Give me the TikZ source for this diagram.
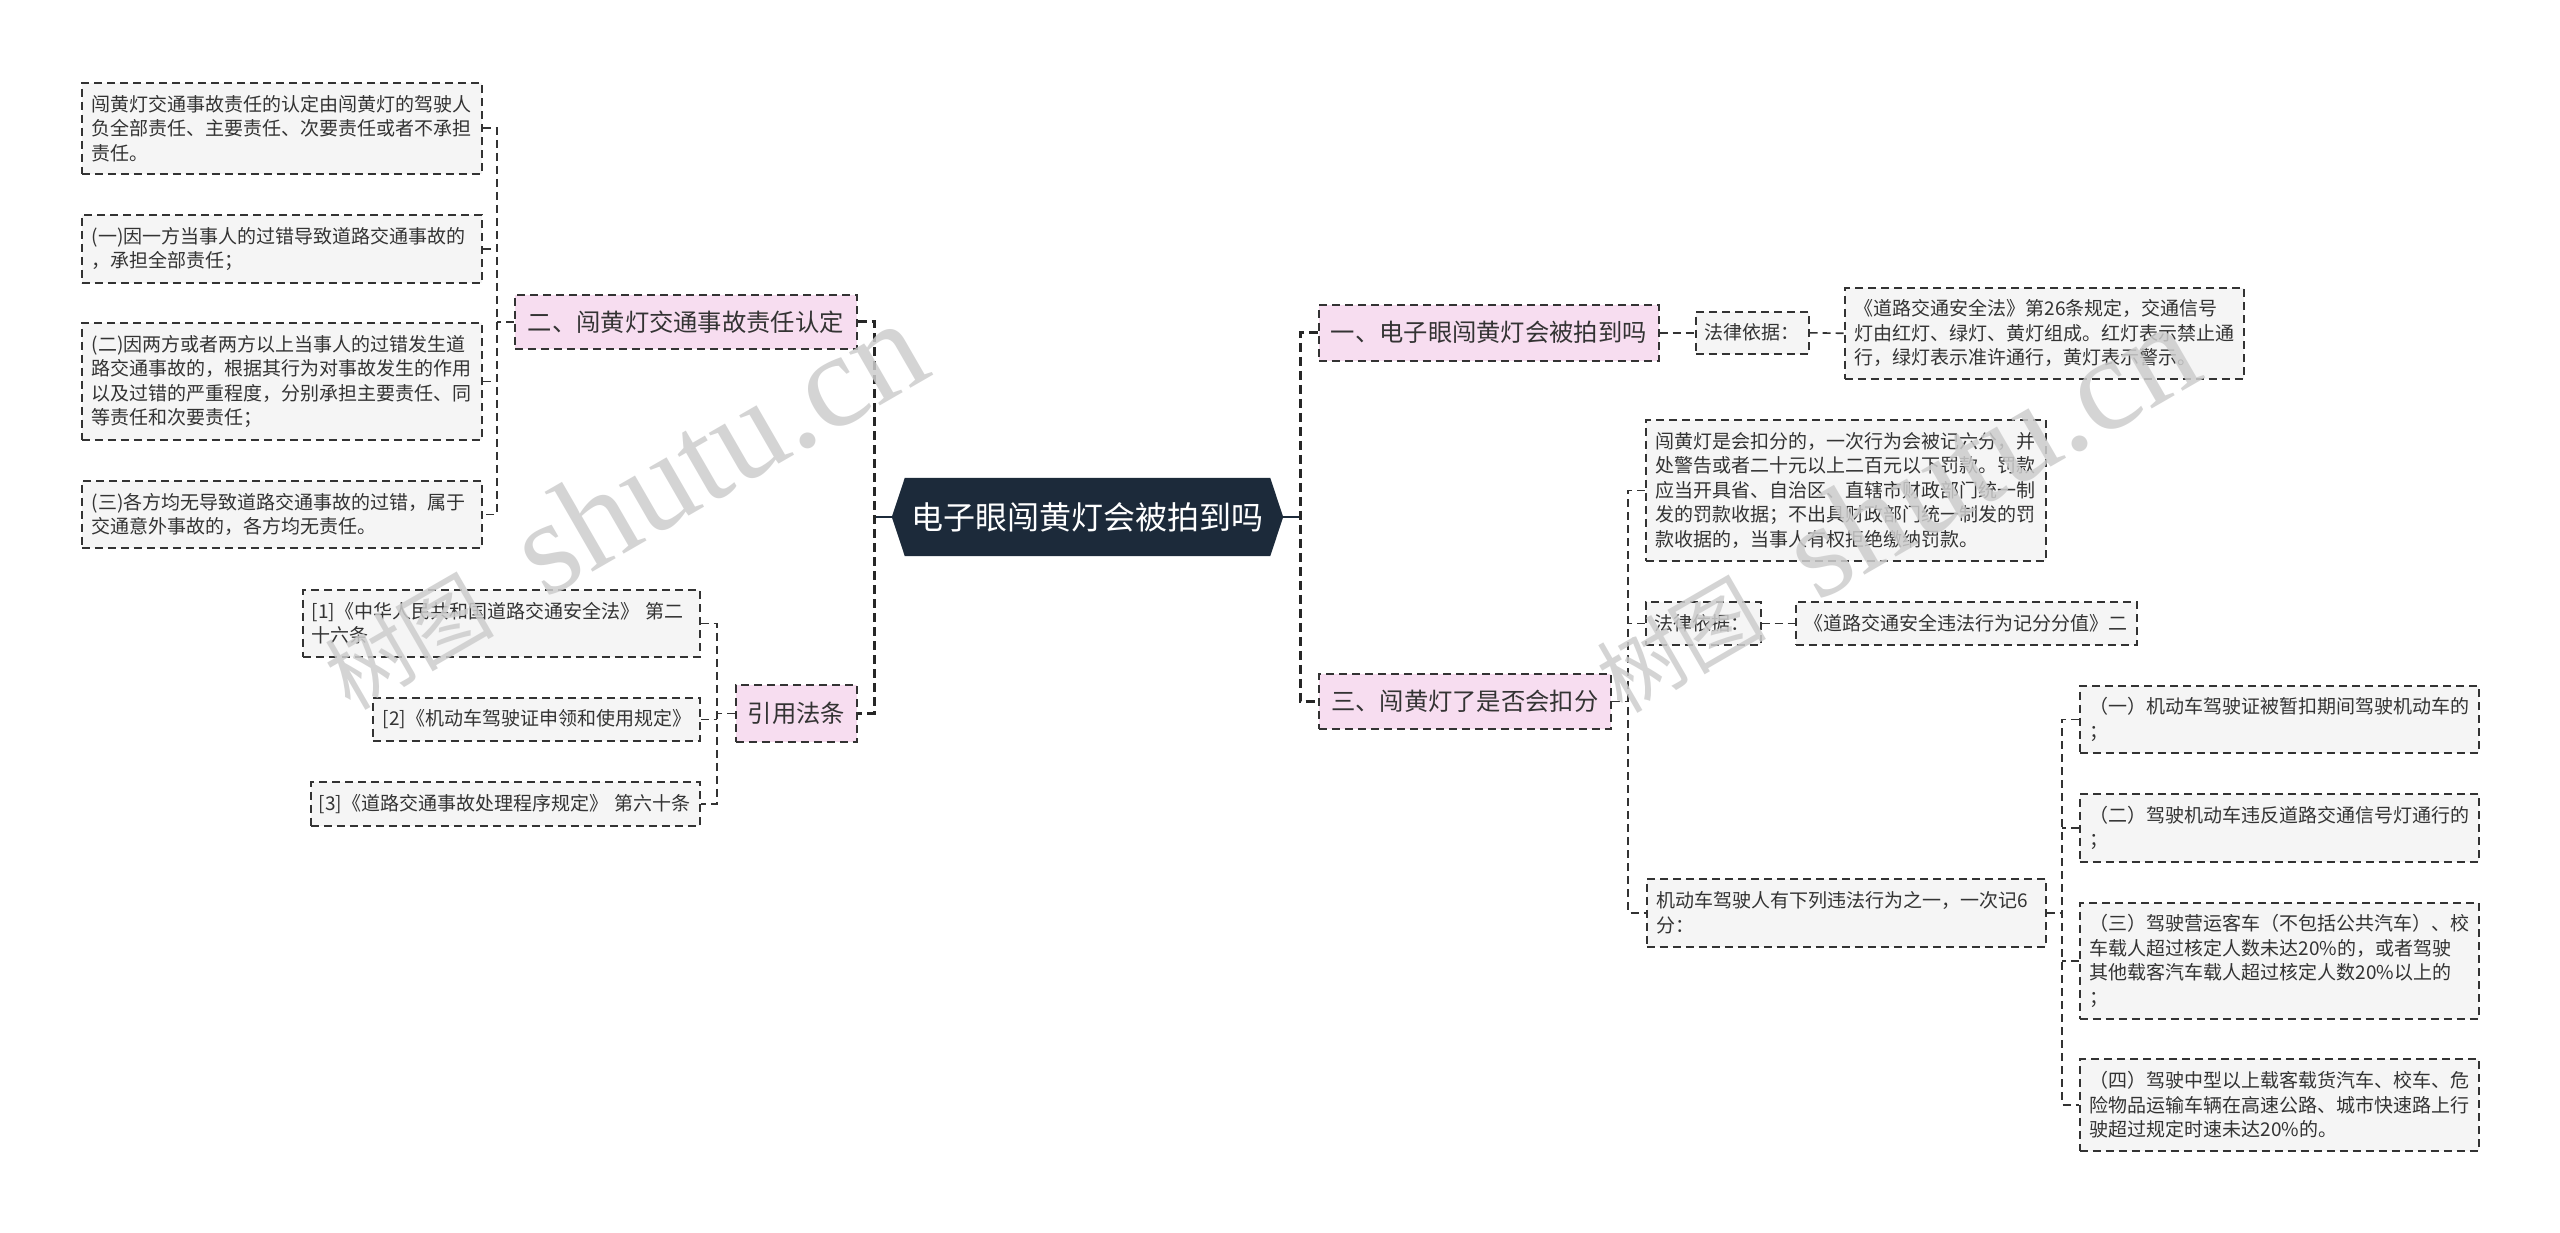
\documentclass[tikz,border=0pt]{standalone}
\usepackage{fontspec}
\newfontfamily\cjk{Noto Sans CJK SC}
\newfontfamily\wmserif{Liberation Serif}
\usetikzlibrary{backgrounds,calc}
\definecolor{linec}{HTML}{333333}
\definecolor{leaffill}{HTML}{F5F5F5}
\definecolor{pinkc}{HTML}{F7DDF0}
\definecolor{rootc}{HTML}{1C2A3A}
\definecolor{textc}{HTML}{333333}
\definecolor{wmc}{HTML}{CDCDCD}
\tikzset{
  leaf/.style={draw=linec, line width=1.6pt, dash pattern=on 8pt off 5pt, fill=leaffill,
    font=\cjk\fontsize{19}{24.5}\selectfont, text=textc, align=left, anchor=north west,
    inner xsep=10pt, inner ysep=0pt},
  topic/.style={draw=linec, line width=1.6pt, dash pattern=on 8pt off 5pt, fill=pinkc,
    font=\cjk\fontsize{24.3}{28}\selectfont, text=textc, inner sep=0pt, anchor=north west},
  rootnode/.style={inner sep=0pt, text=white, font=\cjk\fontsize{32}{36}\selectfont},
  conn/.style={draw=linec, line width=1.6pt, dash pattern=on 8pt off 5pt},
  trunk/.style={draw=black!85, line width=3pt, dash pattern=on 9pt off 5pt},
  rootlink/.style={draw=rootc, line width=2.5pt},
  wm/.style={text=wmc, opacity=0.85, inner sep=0pt, font=\cjk}
}
\begin{document}
\begin{tikzpicture}[x=1pt,y=-1pt]
\useasboundingbox (0,0) rectangle (2560,1233);

% ---------- root ----------
\node[rootnode, minimum width=365pt, minimum height=78pt] (root) at (1087.5,517) {电子眼闯黄灯会被拍到吗};
\coordinate (rootR) at ($(root.east)+(13,0)$);
\coordinate (rootL) at ($(root.west)+(-13,0)$);
\begin{scope}[on background layer]
  \fill[white] (0,0) rectangle (2560,1233);
  \fill[rootc] (root.north west) -- (root.north east) -- (rootR) -- (root.south east)
     -- (root.south west) -- (rootL) -- cycle;
\end{scope}

% ---------- left side ----------
\node[topic, minimum width=342pt, minimum height=54pt] (n2) at (514,294) {二、闯黄灯交通事故责任认定};
\node[leaf, text width=380pt, minimum height=91pt] (A) at (81,82)
  {闯黄灯交通事故责任的认定由闯黄灯的驾驶人\\负全部责任、主要责任、次要责任或者不承担\\责任。};
\node[leaf, text width=380pt, minimum height=68pt] (B) at (81,214)
  {(一)因一方当事人的过错导致道路交通事故的\\，承担全部责任；};
\node[leaf, text width=380pt, minimum height=117pt] (C) at (81,322)
  {(二)因两方或者两方以上当事人的过错发生道\\路交通事故的，根据其行为对事故发生的作用\\以及过错的严重程度，分别承担主要责任、同\\等责任和次要责任；};
\node[leaf, text width=380pt, minimum height=67pt] (D) at (81,480)
  {(三)各方均无导致道路交通事故的过错，属于\\交通意外事故的，各方均无责任。};

\node[topic, minimum width=121pt, minimum height=57pt] (nref) at (735,684) {引用法条};
\node[leaf, inner xsep=9pt, text width=379pt, minimum height=67pt] (R1) at (302,589)
  {[1]《中华人民共和国道路交通安全法》~第二\\十六条};
\node[leaf, text width=307pt, minimum height=43pt] (R2) at (372,697)
  {[2]《机动车驾驶证申领和使用规定》};
\node[leaf, inner xsep=8pt, text width=373pt, minimum height=44pt] (R3) at (310,781)
  {[3]《道路交通事故处理程序规定》~第六十条};

% ---------- right side ----------
\node[topic, minimum width=340pt, minimum height=56pt] (n1) at (1318,304) {一、电子眼闯黄灯会被拍到吗};
\node[leaf, inner xsep=9pt, text width=95pt, minimum height=42pt] (L1) at (1695,311) {法律依据：};
\node[leaf, text width=379pt, minimum height=91pt] (T1) at (1844,287)
  {《道路交通安全法》第26条规定，交通信号\\灯由红灯、绿灯、黄灯组成。红灯表示禁止通\\行，绿灯表示准许通行，黄灯表示警示。};

\node[topic, minimum width=292pt, minimum height=55pt] (n3) at (1318,673) {三、闯黄灯了是否会扣分};
\node[leaf, text width=380pt, minimum height=141pt] (P1) at (1645,419)
  {闯黄灯是会扣分的，一次行为会被记六分，并\\处警告或者二十元以上二百元以下罚款。罚款\\应当开具省、自治区、直辖市财政部门统一制\\发的罚款收据；不出具财政部门统一制发的罚\\款收据的，当事人有权拒绝缴纳罚款。};
\node[leaf, inner xsep=9pt, text width=97pt, minimum height=43pt] (L2) at (1645,601) {法律依据：};
\node[leaf, inner xsep=9pt, text width=323pt, minimum height=43pt] (T2) at (1795,601) {《道路交通安全违法行为记分分值》二};
\node[leaf, text width=379pt, minimum height=68pt] (M) at (1646,878)
  {机动车驾驶人有下列违法行为之一，一次记6\\分：};
\node[leaf, text width=379pt, minimum height=67pt] (S1) at (2079,685)
  {（一）机动车驾驶证被暂扣期间驾驶机动车的\\；};
\node[leaf, text width=379pt, minimum height=68pt] (S2) at (2079,793)
  {（二）驾驶机动车违反道路交通信号灯通行的\\；};
\node[leaf, text width=379pt, minimum height=116pt] (S3) at (2079,902)
  {（三）驾驶营运客车（不包括公共汽车）、校\\车载人超过核定人数未达20\%的，或者驾驶\\其他载客汽车载人超过核定人数20\%以上的\\；};
\node[leaf, text width=379pt, minimum height=92pt] (S4) at (2079,1058)
  {（四）驾驶中型以上载客载货汽车、校车、危\\险物品运输车辆在高速公路、城市快速路上行\\驶超过规定时速未达20\%的。};

% ---------- bracket coordinates ----------
\coordinate (tL) at (874,517);
\coordinate (tR) at (1300,517);
\coordinate (b2) at (497,321);
\coordinate (bref) at (717,712);
\coordinate (b3) at (1628,700);
\coordinate (bM) at (2062,912);

% ---------- connectors ----------
\draw[rootlink] (rootL) -- (tL);
\draw[rootlink] (rootR) -- (tR);
\draw[trunk] (n2.east) -- (n2.east -| tL) -- (nref.east -| tL) -- (nref.east);
\draw[trunk] (n1.west) -- (n1.west -| tR) -- (n3.west -| tR) -- (n3.west);

\draw[conn] (n2.west) -- (n2.west -| b2);
\draw[conn] (A.east) -- (A.east -| b2) -- (D.east -| b2) -- (D.east);
\draw[conn] (B.east) -- (B.east -| b2);
\draw[conn] (C.east) -- (C.east -| b2);

\draw[conn] (nref.west) -- (nref.west -| bref);
\draw[conn] (R1.east) -- (R1.east -| bref) -- (R3.east -| bref) -- (R3.east);
\draw[conn] (R2.east) -- (R2.east -| bref);

\draw[conn] (n1.east) -- (L1.west);
\draw[conn] (L1.east) -- (T1.west);

\draw[conn] (n3.east) -- (n3.east -| b3);
\draw[conn] (P1.west) -- (P1.west -| b3) -- (M.west -| b3) -- (M.west);
\draw[conn] (L2.west) -- (L2.west -| b3);
\draw[conn] (L2.east) -- (T2.west);

\draw[conn] (M.east) -- (M.east -| bM);
\draw[conn] (S1.west) -- (S1.west -| bM) -- (S4.west -| bM) -- (S4.west);
\draw[conn] (S2.west) -- (S2.west -| bM);
\draw[conn] (S3.west) -- (S3.west -| bM);

% ---------- watermarks ----------
\node[wm, rotate=30, anchor=base west] (wm1) at (350,712)
  {{\fontsize{85}{85}\selectfont 树图}\hspace{55pt}{\wmserif\fontsize{134}{134}\selectfont shutu.cn}};
\node[wm, rotate=30, anchor=base west] (wm2) at (1622,715)
  {{\fontsize{85}{85}\selectfont 树图}\hspace{55pt}{\wmserif\fontsize{134}{134}\selectfont shutu.cn}};
\end{tikzpicture}
\end{document}
